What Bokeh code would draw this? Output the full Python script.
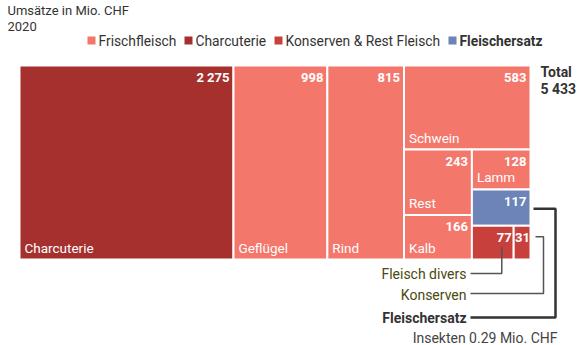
from bokeh.plotting import figure
from bokeh.models import Range1d, ColumnDataSource
from bokeh.core.properties import value
from bokeh.embed import file_html
from bokeh.resources import INLINE

# ---------------- data ----------------
names = ["Charcuterie", "Geflügel", "Rind", "Schwein", "Rest", "Kalb",
         "Lamm", "Fleischersatz", "Fleisch divers", "Konserven"]
values = [2275, 998, 815, 583, 243, 166, 128, 117, 77, 31]
groups = ["Charcuterie", "Frischfleisch", "Frischfleisch", "Frischfleisch",
          "Frischfleisch", "Frischfleisch", "Frischfleisch", "Fleischersatz",
          "Konserven & Rest Fleisch", "Konserven & Rest Fleisch"]
show_name = [True, True, True, True, True, True, True, False, False, False]
legend_labels = ["Frischfleisch", "Charcuterie", "Konserven & Rest Fleisch", "Fleischersatz"]
total = 5433
title_lines = ["Umsätze in Mio. CHF", "2020"]
note = "Insekten 0.29 Mio. CHF"

# ---------------- style ----------------
colors = {"Frischfleisch": "#f4776b", "Charcuterie": "#a6302e",
          "Konserven & Rest Fleisch": "#c8403b", "Fleischersatz": "#6c84b7"}
FONT = "Roboto"
W, H = 582, 345
X0, X1, Y0, Y1 = 19, 530, 65, 259

# layout tree: ('h' = side by side, 'v' = stacked)
tree = ("h", [0, 1, 2, ("v", [3, ("h", [("v", [4, 5]), ("v", [6, 7, ("h", [8, 9])])])])])


def node_sum(n):
    if isinstance(n, int):
        return values[n]
    return sum(node_sum(c) for c in n[1])


rects = {}


def layout(n, x0, y0, x1, y1):
    if isinstance(n, int):
        rects[n] = (x0, y0, x1, y1)
        return
    d, kids = n
    tot = node_sum(n)
    pos = x0 if d == "h" else y0
    for k in kids:
        frac = node_sum(k) / tot
        if d == "h":
            step = (x1 - x0) * frac
            layout(k, pos, y0, pos + step, y1)
        else:
            step = (y1 - y0) * frac
            layout(k, x0, pos, x1, pos + step)
        pos += step


layout(tree, X0, Y0, X1, Y1)

p = figure(width=W, height=H, output_backend="svg", toolbar_location=None,
           x_range=Range1d(0, W), y_range=Range1d(H, 0), min_border=0)
p.xaxis.visible = False
p.yaxis.visible = False
p.grid.visible = False
p.outline_line_color = None
p.background_fill_color = "white"

idx = list(range(len(values)))
src = ColumnDataSource(dict(
    left=[rects[i][0] for i in idx], right=[rects[i][2] for i in idx],
    top=[rects[i][1] for i in idx], bottom=[rects[i][3] for i in idx],
    color=[colors[g] for g in groups]))
p.quad(left="left", right="right", top="top", bottom="bottom", source=src,
       fill_color="color", line_color="white", line_width=2)


# value labels
def pad(i):
    w = rects[i][2] - rects[i][0]
    return 4 if w > 45 else (2 if w > 25 else 0.5)


vsrc = ColumnDataSource(dict(
    x=[rects[i][2] - pad(i) for i in idx], y=[rects[i][1] + 12 for i in idx],
    t=[f"{values[i]:,}".replace(",", " ") for i in idx]))
p.text(x="x", y="y", text="t", source=vsrc, text_color="white",
       text_font=value(FONT), text_font_size="13px", text_font_style="bold",
       text_align="right", text_baseline="middle")

# name labels
ni = [i for i in idx if show_name[i]]
nsrc = ColumnDataSource(dict(
    x=[rects[i][0] + 5 for i in ni], y=[rects[i][3] - 12 for i in ni],
    t=[names[i] for i in ni]))
p.text(x="x", y="y", text="t", source=nsrc, text_color="white",
       text_font=value(FONT), text_font_size="13.5px",
       text_align="left", text_baseline="middle")

# title
p.text(x=[7, 7], y=[10, 26], text=title_lines, text_color="#333333",
       text_font=value(FONT), text_font_size="13px",
       text_align="left", text_baseline="middle")

# legend
lx = [87, 184, 274, 448]
for k, lab in enumerate(legend_labels):
    p.quad(left=[lx[k]], right=[lx[k] + 8], top=[36], bottom=[44],
           fill_color=colors[lab], line_color=None)
    p.text(x=[lx[k] + 11], y=[40], text=[lab], text_color="#333333",
           text_font=value(FONT), text_font_size="13.8px",
           text_font_style="bold" if lab == "Fleischersatz" else "normal",
           text_align="left", text_baseline="middle")

# total
p.text(x=[540, 540], y=[71, 88], text=["Total", f"{total:,}".replace(",", " ")],
       text_color="#333333", text_font=value(FONT), text_font_size="14px",
       text_font_style="bold", text_align="left", text_baseline="middle")

# annotation connectors
ie, ik, idv = names.index("Fleischersatz"), names.index("Konserven"), names.index("Fleisch divers")
r = rects[ie]
ye = (r[1] + r[3]) / 2 + 1
p.line(x=[r[2] + 3, 555, 555, 470], y=[ye, ye, 317, 317], line_color="#333333", line_width=2.5)
r = rects[ik]
yk = (r[1] + r[3]) / 2 - 6
p.line(x=[r[2] + 5, 543, 543, 470], y=[yk, yk, 293, 293], line_color="#555555", line_width=1.5)
r = rects[idv]
xd = (r[0] + r[2]) / 2 + 9
p.line(x=[xd, xd, 470], y=[r[1] + 21, 273, 273], line_color="#555555", line_width=1.5)

p.text(x=[466, 466], y=[273, 294], text=["Fleisch divers", "Konserven"],
       text_color="#4a4a0c", text_font=value(FONT), text_font_size="14px",
       text_align="right", text_baseline="middle")
p.text(x=[466], y=[317], text=["Fleischersatz"], text_color="#333333",
       text_font=value(FONT), text_font_size="14px", text_font_style="bold",
       text_align="right", text_baseline="middle")
p.text(x=[557], y=[337], text=[note], text_color="#444444",
       text_font=value(FONT), text_font_size="14px",
       text_align="right", text_baseline="middle")

open("out.html", "w").write(file_html(p, INLINE))
